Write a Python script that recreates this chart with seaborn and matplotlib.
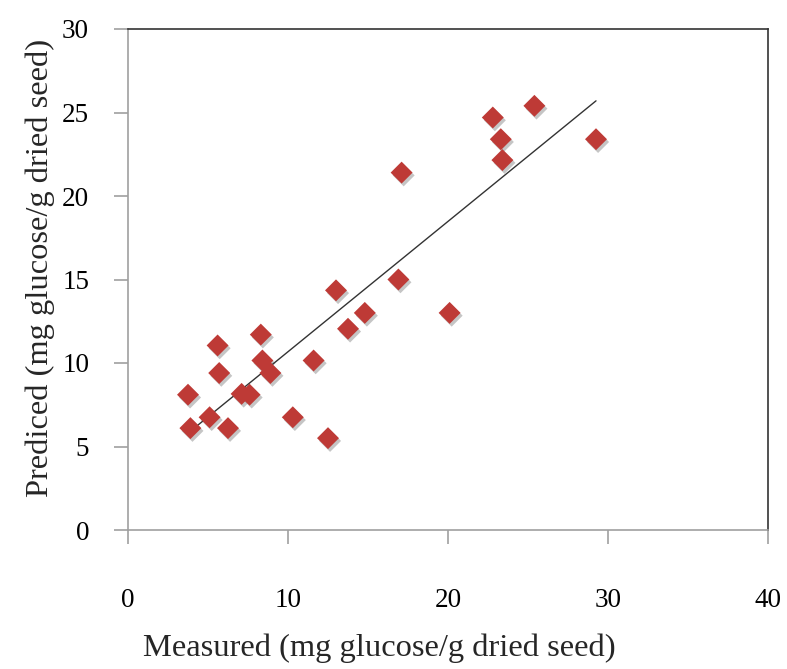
import numpy as np
import pandas as pd
import matplotlib
matplotlib.use("Agg")
import matplotlib.pyplot as plt
import matplotlib.patheffects as pe
import seaborn as sns

# Data
measured = [3.75, 3.9, 5.1, 5.6, 5.7, 6.25, 7.1, 7.6, 8.3, 8.4, 8.9, 10.3, 11.6,
            12.5, 13.0, 13.75, 14.8, 16.9, 17.1, 20.1, 22.8, 23.3, 23.4, 25.4, 29.25]
predicted = [8.1, 6.1, 6.75, 11.05, 9.4, 6.1, 8.15, 8.1, 11.7, 10.15, 9.4, 6.75, 10.15,
             5.5, 14.35, 12.05, 13.0, 15.0, 21.4, 13.0, 24.7, 23.4, 22.15, 25.4, 23.4]
x_ticks = [0, 10, 20, 30, 40]
y_ticks = [0, 5, 10, 15, 20, 25, 30]
x_label = "Measured (mg glucose/g dried seed)"
y_label = "Prediced (mg glucose/g dried seed)"

df = pd.DataFrame({"measured": measured, "predicted": predicted})

sns.set_theme(style="white")
plt.rcParams["font.family"] = ["Liberation Serif", "DejaVu Serif"]

fig = plt.figure(figsize=(7.87, 6.69), dpi=100)
ax = fig.add_axes([128 / 787, 1 - 530 / 669, 640 / 787, 501 / 669])

sns.regplot(data=df, x="measured", y="predicted", scatter=False, ci=None,
            color="#333333", line_kws={"linewidth": 1.0}, ax=ax)
sns.scatterplot(data=df, x="measured", y="predicted", marker="D", s=125,
                color="#BE3A36", edgecolor="none", linewidth=0, ax=ax, zorder=3)
for coll in ax.collections:
    coll.set_path_effects([pe.SimplePatchShadow(offset=(1.5, -2), alpha=0.3,
                                                shadow_rgbFace=(0.25, 0.25, 0.25)),
                           pe.Normal()])

ax.set_xlim(0, 40)
ax.set_ylim(0, 30)
ax.set_xticks(x_ticks)
ax.set_yticks(y_ticks)
ax.tick_params(axis="both", which="both", direction="out", length=10, width=1.2,
               color="#A0A0A0", labelsize=19.5, labelcolor="black")
ax.tick_params(axis="x", pad=32, bottom=True)
ax.tick_params(axis="y", pad=18, left=True)

for side in ["left", "bottom"]:
    ax.spines[side].set_color("#A0A0A0")
    ax.spines[side].set_linewidth(1.2)
for side in ["top", "right"]:
    ax.spines[side].set_color("#333333")
    ax.spines[side].set_linewidth(1.2)
    ax.spines[side].set_visible(True)

ax.set_xlabel(x_label, fontsize=23.4, va="center")
ax.set_ylabel(y_label, fontsize=23.4, va="center")
ax.xaxis.set_label_coords(0.392, -0.2355)
ax.yaxis.set_label_coords(-0.1375, 0.523)
ax.grid(False)

fig.savefig("out.png", dpi=100, facecolor="white")
